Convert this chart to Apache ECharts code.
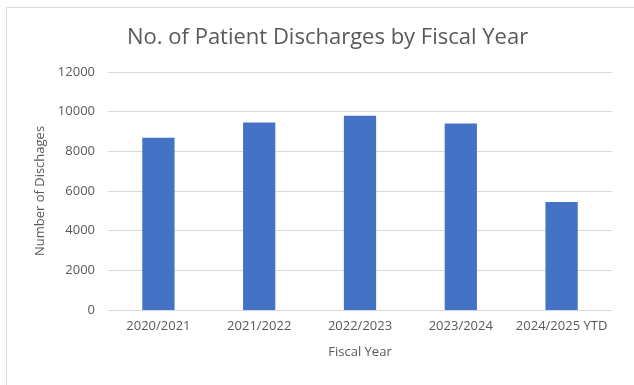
<!DOCTYPE html>
<html>
<head>
<meta charset="utf-8">
<script src="https://cdn.jsdelivr.net/npm/echarts@6/dist/echarts.min.js"></script>
<style>
  html, body { margin: 0; padding: 0; background: #fff; }
  #chart { width: 634px; height: 385px; }
</style>
</head>
<body>
<div id="chart"></div>
<script>
// Fiscal years and discharge counts
const fiscalYears = ['2020/2021', '2021/2022', '2022/2023', '2023/2024', '2024/2025 YTD'];
const discharges = [8680, 9450, 9800, 9400, 5450];
const yTicks = { min: 0, max: 12000, interval: 2000 };

const textColor = '#595959';
const font = '"Open Sans", "Noto Sans", sans-serif';

const chart = echarts.init(document.getElementById('chart'), null, { renderer: 'canvas' });
chart.setOption({
  animation: false,
  backgroundColor: '#fff',
  title: {
    text: 'No. of Patient Discharges by Fiscal Year',
    left: 122,
    top: 22,
    textStyle: { color: textColor, fontFamily: font, fontSize: 22, fontWeight: 'normal' }
  },
  graphic: [{
    type: 'rect',
    shape: { x: 6.5, y: 7.5, width: 700, height: 500 },
    style: { fill: 'none', stroke: '#d9d9d9', lineWidth: 1 },
    silent: true
  }],
  grid: { left: 108, right: 22, top: 72, bottom: 75 },
  xAxis: {
    type: 'category',
    data: fiscalYears,
    name: 'Fiscal Year',
    nameLocation: 'middle',
    nameGap: 36,
    nameTextStyle: { color: textColor, fontFamily: font, fontSize: 13 },
    axisLine: { lineStyle: { color: '#d9d9d9' } },
    axisTick: { show: false },
    axisLabel: { color: textColor, fontFamily: font, fontSize: 13, margin: 10, interval: 0 }
  },
  yAxis: {
    type: 'value',
    min: yTicks.min,
    max: yTicks.max,
    interval: yTicks.interval,
    name: 'Number of Dischages',
    nameLocation: 'middle',
    nameGap: 61,
    nameTextStyle: { color: textColor, fontFamily: font, fontSize: 13 },
    axisLine: { show: false },
    axisTick: { show: false },
    axisLabel: {
      color: textColor, fontFamily: font, fontSize: 13, margin: 13,
      formatter: v => String(v)
    },
    splitLine: { lineStyle: { color: '#d9d9d9' } }
  },
  series: [{
    type: 'bar',
    data: discharges,
    barWidth: '32%',
    itemStyle: { color: '#4472c4' }
  }]
});
</script>
</body>
</html>
